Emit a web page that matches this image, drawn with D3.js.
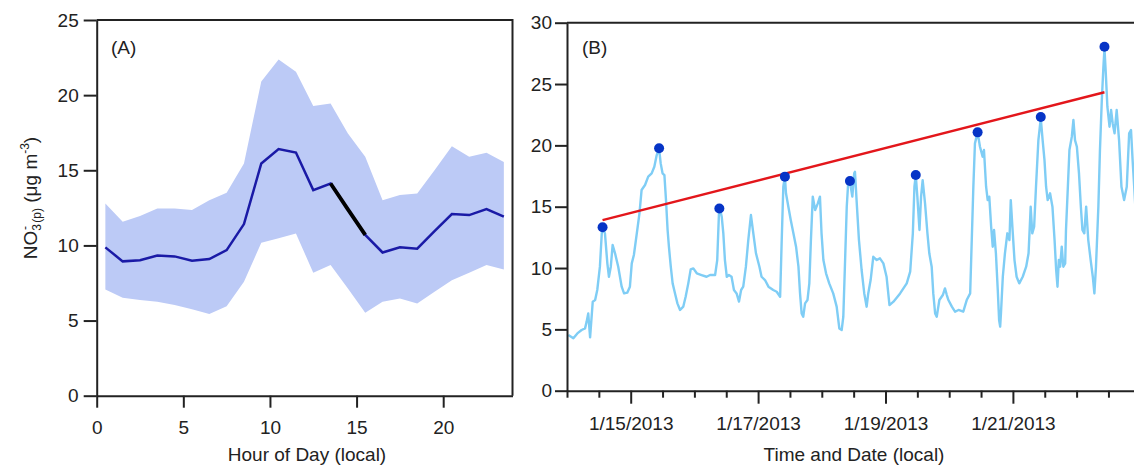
<!DOCTYPE html>
<html>
<head>
<meta charset="utf-8">
<script src="https://cdn.jsdelivr.net/npm/d3@7"></script>
<style>
  body { margin: 0; background: #fff; }
  svg { font-family: "Liberation Sans", Arial, sans-serif; }
  .axis path, .axis line { stroke: #222; stroke-width: 2; }
  .axis text { font-size: 19px; fill: #222; }
</style>
</head>
<body>
<div id="chart"></div>
<script>
// Panel A: diurnal profile (hour of day, mean and spread)
const hours = [0.5, 1.5, 2.5, 3.5, 4.5, 5.5, 6.5, 7.5, 8.5, 9.5, 10.5, 11.5,
               12.5, 13.5, 14.5, 15.5, 16.5, 17.5, 18.5, 19.5, 20.5, 21.5, 22.5, 23.5];
const meanNO3 = [9.87, 8.94, 9.02, 9.33, 9.27, 8.98, 9.09, 9.69, 11.42, 15.45, 16.41, 16.18,
                 13.68, 14.12, 12.4, 10.7, 9.53, 9.88, 9.78, 10.95, 12.09, 12.02, 12.42, 11.91];
const upperNO3 = [12.79, 11.57, 11.95, 12.46, 12.46, 12.35, 13.0, 13.5, 15.45, 20.9, 22.37, 21.55,
                  19.27, 19.45, 17.45, 15.9, 13.0, 13.35, 13.46, 15.0, 16.6, 15.9, 16.17, 15.55];
const lowerNO3 = [7.07, 6.52, 6.36, 6.25, 6.03, 5.76, 5.43, 5.96, 7.58, 10.18, 10.47, 10.8,
                  8.18, 8.69, 7.14, 5.52, 6.25, 6.47, 6.14, 6.92, 7.69, 8.18, 8.69, 8.40];
const hourTicks = [0, 5, 10, 15, 20];
const blackFrom = 13.5, blackTo = 15.5;

// Panel B: time series, [hours since 1/14/2013 00:00, value]
const no3Series = [
  [0.5,4.54],[2.4,4.27],[3.9,4.67],[5.5,4.95],[6.8,5.08],[7.4,5.63],[8.0,6.30],[8.7,4.35],[9.7,7.26],[10.6,7.39],
  [11.4,8.21],[12.4,10.11],[13.1,12.83],[13.4,13.32],[14.3,12.83],[15.2,10.38],[15.8,9.29],[16.5,10.11],[17.2,11.88],[18.1,11.20],
  [19.3,10.11],[20.6,8.48],[21.5,7.93],[22.7,7.99],[23.7,8.48],[24.4,10.38],[25.2,11.06],[26.3,12.83],[27.3,14.46],[28.1,16.36],
  [29.4,16.77],[30.6,17.45],[31.9,17.72],[32.9,18.26],[33.8,19.21],[34.7,19.76],[35.3,18.53],[36.0,17.72],[36.7,17.58],[37.3,15.54],
  [37.9,13.10],[38.4,11.74],[39.1,10.11],[39.8,8.75],[40.7,7.93],[41.6,7.12],[42.6,6.58],[43.8,6.85],[44.7,7.66],[45.7,8.75],
  [46.6,9.89],[47.6,9.97],[48.9,9.57],[50.7,9.43],[52.6,9.29],[53.9,9.43],[55.8,9.43],[56.6,10.65],[57.3,14.73],[57.6,14.86],
  [58.3,14.18],[58.9,12.83],[59.5,10.65],[60.2,9.29],[61.0,9.43],[62.0,9.29],[62.9,8.21],[63.9,7.93],[64.8,7.26],[65.6,8.21],
  [66.4,8.48],[67.4,10.11],[68.3,12.28],[69.3,14.32],[70.2,12.83],[71.2,11.20],[72.5,10.11],[73.3,9.29],[74.6,9.02],[75.9,8.48],
  [77.7,8.21],[79.0,8.07],[80.3,7.66],[80.9,12.28],[81.5,16.63],[82.1,17.45],[82.5,16.09],[83.4,15.00],[84.3,13.91],[85.3,12.83],
  [86.3,11.74],[87.2,10.11],[87.8,7.93],[88.4,6.30],[89.0,6.03],[89.7,7.12],[90.6,7.39],[91.3,8.75],[91.9,12.28],[92.6,15.82],
  [93.5,14.73],[94.5,15.27],[95.3,15.82],[95.9,12.83],[96.6,10.65],[97.6,9.57],[98.8,8.75],[100.3,7.93],[101.6,6.85],[102.6,5.08],
  [103.5,4.95],[104.1,6.03],[104.7,10.11],[105.4,15.00],[106.0,17.17],[106.6,17.04],[107.5,15.82],[108.2,17.72],[108.5,17.85],[109.1,15.54],
  [110.0,12.28],[111.0,9.84],[112.0,7.93],[112.9,6.85],[113.5,7.93],[114.4,9.02],[115.4,10.92],[116.7,10.65],[117.9,10.79],[119.2,10.38],
  [120.4,9.29],[121.5,6.98],[123.0,7.26],[125.5,7.93],[128.0,8.75],[129.3,9.70],[130.3,12.83],[130.9,16.63],[131.4,17.58],[132.0,15.82],
  [132.8,13.10],[133.4,15.82],[134.0,17.17],[134.9,15.27],[135.8,12.83],[136.5,11.20],[137.4,10.11],[138.0,7.93],[138.7,6.30],[139.3,6.03],
  [140.3,7.39],[141.6,7.80],[142.4,8.34],[143.1,7.80],[143.7,7.39],[145.0,6.85],[146.2,6.44],[147.5,6.58],[149.3,6.44],[150.6,7.39],
  [151.9,7.93],[152.5,12.28],[153.1,16.63],[153.7,20.16],[154.7,21.06],[155.6,19.89],[156.6,19.08],[157.1,19.62],[157.9,16.63],[158.5,15.54],
  [159.1,15.82],[159.8,13.37],[160.4,11.74],[160.9,13.10],[161.6,11.20],[162.3,8.21],[162.8,5.76],[163.2,5.22],[163.5,6.30],[164.2,9.29],
  [165.0,11.20],[165.9,12.83],[166.7,12.28],[167.2,15.54],[167.8,13.37],[168.6,10.65],[169.4,9.29],[170.4,8.75],[171.7,9.29],[173.0,10.11],
  [173.9,11.20],[174.7,15.00],[175.3,12.83],[176.0,13.37],[176.7,16.63],[177.6,20.43],[178.5,22.20],[179.2,20.43],[179.9,18.80],[180.5,16.63],
  [181.1,15.54],[182.0,16.09],[182.9,15.00],[183.7,12.28],[184.3,9.84],[184.8,8.48],[185.3,10.65],[185.8,10.11],[186.4,11.74],[187.0,10.11],
  [187.7,10.38],[188.0,13.10],[188.6,16.09],[189.3,19.62],[190.2,20.71],[190.8,22.07],[191.4,20.43],[192.1,19.89],[192.9,17.72],[193.6,15.00],
  [194.2,13.10],[194.9,12.83],[195.6,15.00],[196.4,12.28],[197.3,10.65],[198.1,9.29],[198.7,7.93],[199.3,10.11],[200.2,15.00],[200.8,19.62],
  [201.5,23.70],[202.1,26.41],[202.5,27.91],[203.0,25.87],[203.6,23.15],[204.4,21.52],[205.0,22.88],[205.6,21.79],[206.3,20.98],[207.1,22.88],
  [208.0,20.43],[208.9,16.63],[209.9,15.54],[210.9,16.63],[211.8,20.98],[212.5,21.25],[213.1,18.80],[213.7,16.63],[214.8,12.5]
];
const dailyMaxHour = [13.4, 34.7, 57.4, 82.1, 106.6, 131.4, 154.7, 178.5, 202.5];
const dailyMax = [13.32, 19.76, 14.86, 17.45, 17.09, 17.58, 21.06, 22.31, 28.04];
const startDate = new Date(2013, 0, 14);
const lastLabelDate = new Date(2013, 0, 21);

const width = 1134, height = 466;
const svg = d3.select("#chart").append("svg")
    .attr("width", width)
    .attr("height", height);

// ---------- Panel A ----------
const xA = d3.scaleLinear().domain([0, 24]).range([96.7, 512.5]);
const yA = d3.scaleLinear().domain([0, 25]).range([395.7, 20]);

const bandData = hours.map((h, i) => ({ h: h, lo: lowerNO3[i], hi: upperNO3[i] }));
svg.append("path")
    .datum(bandData)
    .attr("fill", "#bccaf6")
    .attr("d", d3.area().x(d => xA(d.h)).y0(d => yA(d.lo)).y1(d => yA(d.hi)));

const meanData = hours.map((h, i) => ({ h: h, v: meanNO3[i] }));
const lineA = d3.line().x(d => xA(d.h)).y(d => yA(d.v));
svg.append("path")
    .datum(meanData)
    .attr("fill", "none")
    .attr("stroke", "#1a1aa6")
    .attr("stroke-width", 2.5)
    .attr("d", lineA);
// highlighted segment
svg.append("path")
    .datum(meanData.filter(d => d.h >= blackFrom && d.h <= blackTo))
    .attr("fill", "none")
    .attr("stroke", "#000")
    .attr("stroke-width", 3.8)
    .attr("d", lineA);

// axes A
const axA_x = svg.append("g")
    .attr("class", "axis")
    .attr("transform", `translate(0,${yA(0)})`)
    .call(d3.axisBottom(xA).tickValues(hourTicks).tickSize(12).tickSizeOuter(0));
axA_x.selectAll("text").attr("dy", null).attr("y", 38);

svg.append("g")
    .attr("class", "axis")
    .attr("transform", `translate(${xA(0)},0)`)
    .call(d3.axisLeft(yA).tickValues([0, 5, 10, 15, 20, 25]).tickSize(13).tickPadding(5).tickSizeOuter(0));

// frame top and right
svg.append("path")
    .attr("d", `M${xA(0)},${yA(25)}H${xA(24)}V${yA(0)}`)
    .attr("fill", "none")
    .attr("stroke", "#222")
    .attr("stroke-width", 2);

svg.append("text")
    .attr("x", 111).attr("y", 54)
    .attr("font-size", 19).attr("fill", "#222")
    .text("(A)");

svg.append("text")
    .attr("x", 307).attr("y", 461)
    .attr("text-anchor", "middle")
    .attr("font-size", 19).attr("fill", "#222")
    .text("Hour of Day (local)");

// y title with sub/superscripts
const yTitle = svg.append("text")
    .attr("transform", "translate(37,198) rotate(-90)")
    .attr("text-anchor", "middle")
    .attr("font-size", 19).attr("fill", "#222");
yTitle.append("tspan").text("NO");
yTitle.append("tspan").attr("font-size", 12).attr("dy", 4).text("3");
yTitle.append("tspan").attr("font-size", 12).attr("dy", -12).attr("dx", -6).text("-");
yTitle.append("tspan").attr("font-size", 12).attr("dy", 12).text(" (p)");
yTitle.append("tspan").attr("dy", -4).text(" (μg m");
yTitle.append("tspan").attr("font-size", 12).attr("dy", -8).text("-3");
yTitle.append("tspan").attr("dy", 8).text(")");

// ---------- Panel B ----------
const toDate = hr => new Date(startDate.getTime() + hr * 3600 * 1000);
const xB = d3.scaleTime()
    .domain([startDate, toDate(9 * 24)])
    .range([567, 567 + 9 * 63.7]);
const yB = d3.scaleLinear().domain([0, 30]).range([390.7, 22.7]);

svg.append("path")
    .datum(no3Series)
    .attr("fill", "none")
    .attr("stroke", "#7fcdf5")
    .attr("stroke-width", 2.4)
    .attr("stroke-linejoin", "round")
    .attr("d", d3.line().x(d => xB(toDate(d[0]))).y(d => yB(d[1])));

// regression line through the daily maxima
const mx = d3.mean(dailyMaxHour), my = d3.mean(dailyMax);
const slope = d3.sum(dailyMaxHour.map((t, i) => (t - mx) * (dailyMax[i] - my))) /
              d3.sum(dailyMaxHour.map(t => (t - mx) ** 2));
const fit = t => my + slope * (t - mx);
const t0 = dailyMaxHour[0], t1 = dailyMaxHour[dailyMaxHour.length - 1];
svg.append("line")
    .attr("x1", xB(toDate(t0))).attr("y1", yB(fit(t0)))
    .attr("x2", xB(toDate(t1))).attr("y2", yB(fit(t1)))
    .attr("stroke", "#e3161b")
    .attr("stroke-width", 2.4);

svg.selectAll(".maxDot")
    .data(dailyMaxHour)
    .join("circle")
    .attr("class", "maxDot")
    .attr("cx", d => xB(toDate(d)))
    .attr("cy", (d, i) => yB(dailyMax[i]))
    .attr("r", 5)
    .attr("fill", "#0634c6");

// axes B: ticks every 12 h, long ticks + labels on odd days
const isMajor = d => d.getHours() === 0 && d.getDate() % 2 === 1;
const axB_x = svg.append("g")
    .attr("class", "axis")
    .attr("transform", `translate(0,${yB(0)})`)
    .call(d3.axisBottom(xB)
        .ticks(d3.timeHour.every(12))
        .tickSize(7)
        .tickSizeOuter(0)
        .tickFormat(d => isMajor(d) && d <= lastLabelDate ? d3.timeFormat("%-m/%-d/%Y")(d) : ""));
axB_x.selectAll(".tick line").attr("y2", d => isMajor(d) ? 13 : 7);
axB_x.selectAll("text").attr("dy", null).attr("y", 39.5);

svg.append("g")
    .attr("class", "axis")
    .attr("transform", `translate(${xB(startDate)},0)`)
    .call(d3.axisLeft(yB).tickValues([0, 5, 10, 15, 20, 25, 30]).tickSize(12).tickPadding(3).tickSizeOuter(0));

// frame top
svg.append("line")
    .attr("x1", xB(startDate)).attr("y1", yB(30))
    .attr("x2", width + 10).attr("y2", yB(30))
    .attr("stroke", "#222")
    .attr("stroke-width", 2);

svg.append("text")
    .attr("x", 582).attr("y", 54)
    .attr("font-size", 19).attr("fill", "#222")
    .text("(B)");

svg.append("text")
    .attr("x", 854).attr("y", 461)
    .attr("text-anchor", "middle")
    .attr("font-size", 19).attr("fill", "#222")
    .text("Time and Date (local)");
</script>
</body>
</html>
